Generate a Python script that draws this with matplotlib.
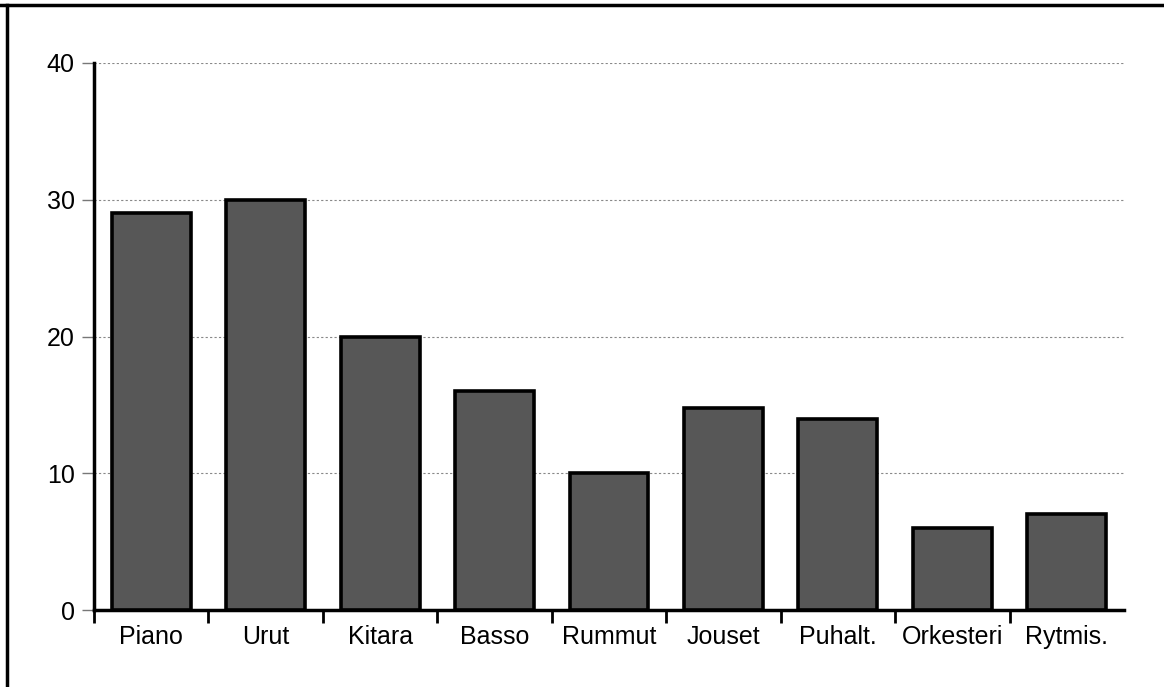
import matplotlib
matplotlib.use("Agg")
import matplotlib.pyplot as plt
from matplotlib.lines import Line2D
import numpy as np

# soittimet ja arvot (luettu kuvasta)
categories = ["Piano", "Urut", "Kitara", "Basso", "Rummut",
              "Jouset", "Puhalt.", "Orkesteri", "Rytmis."]
values = [29, 30, 20, 16, 10, 14.8, 14, 6, 7]
yticks = [0, 10, 20, 30, 40]

plt.rcParams["font.family"] = ["Liberation Sans", "DejaVu Sans"]

fig = plt.figure(figsize=(11.64, 6.87), dpi=100)
ax = fig.add_axes([94 / 1164, 1 - 610 / 687, (1124 - 94) / 1164, (610 - 63) / 687])

x = np.arange(len(categories))
ax.bar(x, values, width=0.69, color="#575757", edgecolor="black",
       linewidth=2.6, zorder=3)

ax.set_xlim(-0.5, len(categories) - 0.5)
ax.set_ylim(0, 40)

ax.set_yticks(yticks)
ax.set_yticklabels([str(v) for v in yticks], fontsize=18)
ax.tick_params(axis="y", direction="out", length=9, width=1, color="#777777", pad=5)
ax.grid(axis="y", linestyle=(0, (2, 2)), color="#888888", linewidth=0.8, zorder=0)

# luokkien nimet keskelle, väliviivat rajoille
ax.set_xticks(x)
ax.set_xticklabels(categories, fontsize=18)
ax.tick_params(axis="x", which="major", length=0, pad=11)
ax.set_xticks(np.arange(len(categories)) - 0.5, minor=True)
ax.tick_params(axis="x", which="minor", direction="out", length=9, width=2, color="black")

for s in ["top", "right"]:
    ax.spines[s].set_visible(False)
ax.spines["left"].set_linewidth(2.5)
ax.spines["bottom"].set_linewidth(2.5)

# skannatun sivun reunaviivat
fig.add_artist(Line2D([0, 1], [1 - 5 / 687, 1 - 5 / 687], transform=fig.transFigure,
                      color="black", linewidth=2.5))
fig.add_artist(Line2D([7 / 1164, 7 / 1164], [0, 1 - 5 / 687], transform=fig.transFigure,
                      color="black", linewidth=2.5))

fig.savefig("out.png", dpi=100)
